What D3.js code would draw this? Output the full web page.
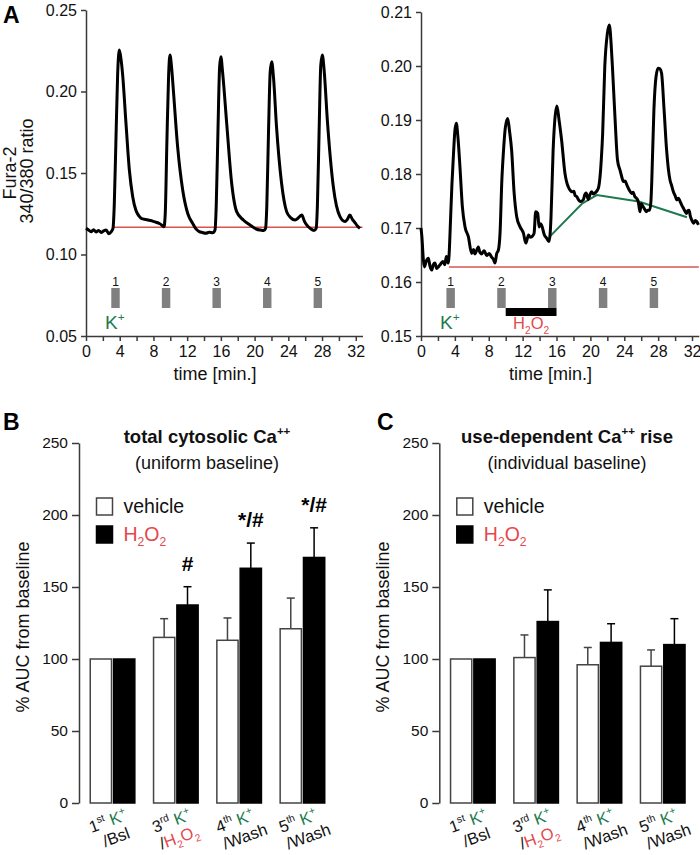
<!DOCTYPE html>
<html><head><meta charset="utf-8">
<script src="https://cdn.jsdelivr.net/npm/d3@7"></script>
<style>
body{margin:0;background:#fff;}
svg{font-family:Arial,"Liberation Sans",Helvetica,sans-serif;}
</style></head><body>
<svg id="chart" width="700" height="855"></svg>
<script>
// ---------------- DATA ----------------
const leftTime = [0,0.3,0.6,0.9,1.2,1.5,1.8,2.1,2.4,2.7,3.0,3.2,3.35,3.55,3.75,3.95,4.15,4.35,4.74,5.14,5.54,5.93,6.3,6.6,7.1,7.5,7.9,8.3,8.7,9.0,9.25,9.4,9.6,9.8,9.96,10.15,10.36,10.87,11.47,12.06,12.65,13.0,13.44,13.8,14.23,14.6,15.03,15.3,15.45,15.65,15.85,16.0,16.2,16.69,17.28,17.87,18.66,19.45,20.25,20.7,21.1,21.3,21.45,21.65,21.85,22.03,22.25,22.6,23.2,23.8,24.3,24.8,25.2,25.6,25.9,26.2,26.6,27.05,27.3,27.45,27.65,27.85,28.03,28.25,28.63,29.34,30.13,30.72,31.0,31.3,31.6,31.9,32.2,32.5];
const leftRatio = [0.1161,0.1150,0.1140,0.1152,0.1138,0.1148,0.1135,0.1145,0.1150,0.1128,0.1140,0.1160,0.1300,0.1700,0.2100,0.2255,0.2200,0.2100,0.1807,0.1520,0.1355,0.1270,0.1235,0.1220,0.1215,0.1210,0.1205,0.1198,0.1190,0.1180,0.1170,0.1250,0.1700,0.2100,0.2224,0.2150,0.2010,0.1660,0.1396,0.1253,0.1191,0.1160,0.1140,0.1135,0.1131,0.1136,0.1134,0.1150,0.1300,0.1750,0.2150,0.2213,0.2120,0.1805,0.1437,0.1263,0.1212,0.1181,0.1155,0.1150,0.1147,0.1160,0.1300,0.1750,0.2120,0.2183,0.2080,0.1784,0.1437,0.1263,0.1225,0.1212,0.1225,0.1242,0.1205,0.1180,0.1160,0.1147,0.1160,0.1300,0.1750,0.2160,0.2224,0.2130,0.1825,0.1416,0.1232,0.1202,0.1215,0.1242,0.1215,0.1196,0.1175,0.1160];

const rightTime = [0,0.1,0.28,0.4,0.65,0.87,1.05,1.26,1.45,1.65,1.85,2.05,2.3,2.6,2.8,3.0,3.2,3.35,3.45,3.65,3.82,4.0,4.17,4.35,4.6,4.88,5.2,5.59,5.98,6.2,6.37,6.77,6.95,7.16,7.45,7.75,8.05,8.34,8.55,8.74,8.93,9.15,9.33,9.55,9.72,9.95,10.23,10.45,10.7,11.0,11.3,11.7,12.1,12.37,12.7,12.9,13.1,13.35,13.54,13.78,13.94,14.1,14.25,14.57,14.84,15.1,15.25,15.35,15.6,15.8,16.05,16.3,16.6,17.0,17.2,17.4,17.6,17.8,18.05,18.2,18.4,18.6,18.85,19.15,19.35,19.5,19.75,19.95,20.15,20.35,20.55,20.93,21.1,21.3,21.45,21.7,22.0,22.24,22.45,22.6,22.9,23.2,23.5,23.7,23.9,24.1,24.3,24.6,24.87,25.05,25.25,25.45,25.65,25.85,26.0,26.2,26.4,26.6,26.8,27.0,27.15,27.24,27.5,27.75,28.0,28.2,28.4,28.7,29.0,29.2,29.4,29.6,29.8,30.0,30.2,30.4,30.6,30.8,30.97,31.2,31.35,31.5,31.65,31.8,31.96,32.2,32.4,32.55,32.75];
const rightRatio = [0.1700,0.1685,0.1641,0.1628,0.1640,0.1644,0.1630,0.1622,0.1632,0.1635,0.1625,0.1628,0.1633,0.1638,0.1632,0.1647,0.1635,0.1660,0.1700,0.1780,0.1832,0.1880,0.1894,0.1870,0.1813,0.1740,0.1702,0.1684,0.1653,0.1660,0.1652,0.1665,0.1655,0.1652,0.1658,0.1649,0.1653,0.1646,0.1642,0.1635,0.1652,0.1660,0.1690,0.1790,0.1838,0.1885,0.1903,0.1880,0.1844,0.1764,0.1721,0.1702,0.1690,0.1672,0.1687,0.1683,0.1684,0.1690,0.1730,0.1727,0.1702,0.1708,0.1705,0.1687,0.1681,0.1675,0.1690,0.1720,0.1844,0.1900,0.1926,0.1900,0.1863,0.1801,0.1785,0.1776,0.1770,0.1767,0.1768,0.1760,0.1758,0.1752,0.1749,0.1752,0.1762,0.1765,0.1753,0.1762,0.1767,0.1763,0.1765,0.1773,0.1789,0.1830,0.1876,0.1999,0.2060,0.2076,0.2040,0.1999,0.1906,0.1826,0.1807,0.1795,0.1786,0.1787,0.1780,0.1770,0.1764,0.1766,0.1758,0.1755,0.1749,0.1730,0.1745,0.1740,0.1735,0.1730,0.1733,0.1733,0.1750,0.1783,0.1919,0.1980,0.1996,0.1995,0.1987,0.1919,0.1844,0.1810,0.1789,0.1778,0.1767,0.1760,0.1752,0.1755,0.1749,0.1742,0.1737,0.1730,0.1727,0.1732,0.1733,0.1722,0.1715,0.1709,0.1714,0.1712,0.1706];

const baselineLeft = 0.1167;
const baselineRight = 0.1628;
const baselineStart = 3.3;
const stimOn  = [3, 9, 15, 21, 27];
const stimOff = [4, 10, 16, 22, 28];
const stimLabels = ["1","2","3","4","5"];
const h2o2Period = [10, 16];
const greenTime  = [15.2, 19.0, 20.75, 25.7, 31.4];
const greenRatio = [0.1684, 0.1745, 0.1761, 0.1749, 0.1720];
const leftYTicks  = [0.05, 0.10, 0.15, 0.20, 0.25];
const rightYTicks = [0.15, 0.16, 0.17, 0.18, 0.19, 0.20, 0.21];
const timeTicks = d3.range(0, 33, 2);

const groups = ["1st", "3rd", "4th", "5th"];
const groupSuffix = ["/Bsl", "/H2O2", "/Wash", "/Wash"];
const vehicleB = [100, 115, 113, 121];
const vehicleBErr = [0, 13, 15.5, 21.3];
const h2o2B = [100, 137.5, 163, 170.5];
const h2o2BErr = [0, 12.7, 17.5, 20.6];
const sigB = ["", "#", "*/#", "*/#"];
const vehicleC = [100, 101, 96, 95];
const vehicleCErr = [0, 15.7, 12, 11.3];
const h2o2C = [100, 126, 111.5, 110];
const h2o2CErr = [0, 22, 13, 18];
const sigC = ["", "", "", ""];
const barYTicks = [0, 50, 100, 150, 200, 250];

// ---------------- STYLE ----------------
const GREEN = "#1c7a4c", RED = "#e5484d", LINE_RED = "#d9534f", AX = "#3a3a3a";
const svg = d3.select("#chart");

function rich(sel, segs, fs) {
  let cur = 0;
  segs.forEach(s => {
    const target = s.sup ? -0.42 * fs : (s.sub ? 0.28 * fs : 0);
    const ts = sel.append("tspan").text(s.t).attr("dy", (target - cur).toFixed(2));
    if (s.sup || s.sub) ts.attr("font-size", (fs * 0.62).toFixed(1));
    if (s.fill) ts.attr("fill", s.fill);
    if (s.dx) ts.attr("dx", s.dx);
    cur = target;
  });
}
const h2o2Segs = (fill) => [{t:"H",fill},{t:"2",sub:true,fill},{t:"O",fill},{t:"2",sub:true,fill}];

// ---------------- PANEL A ----------------
function tracePanel(o) {
  const x = d3.scaleLinear().domain([0, 32.8]).range([o.x0, o.x1]);
  const y = d3.scaleLinear().domain(o.yDomain).range([336, o.yTop]);
  const g = svg.append("g");

  const yAx = g.append("g").attr("transform", `translate(${o.x0},0)`)
    .call(d3.axisLeft(y).tickValues(o.yTicks).tickFormat(d3.format(".2f")).tickSize(5).tickPadding(4).tickSizeOuter(0));
  const xAx = g.append("g").attr("transform", `translate(0,336)`)
    .call(d3.axisBottom(x).tickValues(timeTicks).tickFormat(d => d % 4 === 0 ? d : "").tickSize(5).tickPadding(5).tickSizeOuter(0));
  [yAx, xAx].forEach(a => {
    a.selectAll("path,line").attr("stroke", AX).attr("stroke-width", 1.5);
    a.selectAll("text").attr("font-size", 16).attr("fill", "#111");
  });

  g.append("line").attr("x1", x(baselineStart)).attr("x2", x(32.8))
    .attr("y1", y(o.baseline)).attr("y2", y(o.baseline))
    .attr("stroke", LINE_RED).attr("stroke-width", 1.5);

  if (o.green) {
    const gl = d3.line().x(d => x(d[0])).y(d => y(d[1]));
    g.append("path").datum(greenTime.map((t, i) => [t, greenRatio[i]]))
      .attr("d", gl).attr("fill", "none").attr("stroke", GREEN).attr("stroke-width", 2);
  }

  const line = d3.line().x(d => x(d[0])).y(d => y(d[1])).curve(d3.curveMonotoneX);
  g.append("path").datum(o.t.map((t, i) => [t, o.v[i]]))
    .attr("d", line).attr("fill", "none").attr("stroke", "#000")
    .attr("stroke-width", 3).attr("stroke-linejoin", "round");

  stimOn.forEach((s, i) => {
    g.append("rect").attr("x", x(s)).attr("width", x(stimOff[i]) - x(s))
      .attr("y", 288).attr("height", 20).attr("fill", "#808080");
    g.append("text").attr("x", x((s + stimOff[i]) / 2)).attr("y", 286)
      .attr("text-anchor", "middle").attr("font-size", 12).attr("fill", "#111").text(stimLabels[i]);
  });
  const kt = g.append("text").attr("x", x(2.25)).attr("y", 329).attr("font-size", 19).attr("fill", GREEN);
  rich(kt, [{t:"K"},{t:"+",sup:true}], 19);

  if (o.h2o2) {
    g.append("rect").attr("x", x(h2o2Period[0])).attr("width", x(h2o2Period[1]) - x(h2o2Period[0]))
      .attr("y", 308).attr("height", 8).attr("fill", "#000");
    const ht = g.append("text").attr("x", x((h2o2Period[0] + h2o2Period[1]) / 2)).attr("y", 329)
      .attr("text-anchor", "middle").attr("font-size", 16.5).attr("fill", RED);
    rich(ht, h2o2Segs(RED), 16.5);
  }
  g.append("text").attr("x", x(15.3)).attr("y", 380).attr("text-anchor", "middle")
    .attr("font-size", 18).attr("fill", "#111").text("time [min.]");
}

tracePanel({x0: 86, x1: 362.5, yDomain: [0.05, 0.25], yTop: 10, yTicks: leftYTicks,
  t: leftTime, v: leftRatio, baseline: baselineLeft, green: false, h2o2: false});
tracePanel({x0: 421, x1: 698.8, yDomain: [0.15, 0.21], yTop: 12, yTicks: rightYTicks,
  t: rightTime, v: rightRatio, baseline: baselineRight, green: true, h2o2: true});

svg.append("text").attr("x", 3).attr("y", 23).attr("font-size", 23).attr("font-weight", "bold").text("A");
svg.append("text").attr("transform", "translate(16,173) rotate(-90)").attr("text-anchor", "middle")
  .attr("font-size", 18).attr("fill", "#111").text("Fura-2");
svg.append("text").attr("transform", "translate(33,171) rotate(-90)").attr("text-anchor", "middle")
  .attr("font-size", 18).attr("fill", "#111").text("340/380 ratio");

// ---------------- PANELS B & C ----------------
function barPanel(o) {
  const g = svg.append("g");
  const y = d3.scaleLinear().domain([0, 250]).range([803, 443]);
  const step = 63.3, pi = 0.272, po = 10.5 / 63.3;
  const x = d3.scaleBand().domain(groups)
    .range([o.ax, o.ax + step * (groups.length - pi + 2 * po)]).paddingInner(pi).paddingOuter(po);
  const xs = d3.scaleBand().domain(["vehicle", "h2o2"]).range([0, x.bandwidth()]).paddingInner(0.025);

  const yAx = g.append("g").attr("transform", `translate(${o.ax},0)`)
    .call(d3.axisLeft(y).tickValues(barYTicks).tickSize(7).tickPadding(4).tickSizeOuter(0));
  yAx.selectAll("path,line").attr("stroke", AX).attr("stroke-width", 1.5);
  yAx.selectAll("text").attr("font-size", 15.5).attr("fill", "#111");

  const series = [
    {key: "vehicle", vals: o.veh, err: o.vehErr, fill: "#fff", stroke: "#444"},
    {key: "h2o2", vals: o.h2o2, err: o.h2o2Err, fill: "#000", stroke: "#000"}
  ];
  series.forEach(s => {
    groups.forEach((gname, i) => {
      const bx = x(gname) + xs(s.key), bw = xs.bandwidth(), cx = bx + bw / 2;
      if (s.err[i] > 0) {
        const top = y(s.vals[i] + s.err[i]);
        g.append("line").attr("x1", cx).attr("x2", cx).attr("y1", y(s.vals[i])).attr("y2", top)
          .attr("stroke", s.stroke).attr("stroke-width", 1.5);
        g.append("line").attr("x1", cx - 4).attr("x2", cx + 4).attr("y1", top).attr("y2", top)
          .attr("stroke", s.stroke).attr("stroke-width", 1.5);
      }
      g.append("rect").attr("x", bx + 0.75).attr("width", bw - 1.5)
        .attr("y", y(s.vals[i])).attr("height", y(0) - y(s.vals[i]))
        .attr("fill", s.fill).attr("stroke", s.stroke).attr("stroke-width", 1.5);
      if (s.key === "h2o2" && o.sig[i]) {
        g.append("text").attr("x", cx).attr("y", y(s.vals[i] + s.err[i]) - 16)
          .attr("text-anchor", "middle").attr("font-size", 21).attr("font-weight", "bold").text(o.sig[i]);
      }
    });
  });

  groups.forEach((gname, i) => {
    const cx = x(gname) + x.bandwidth() / 2;
    const lg = g.append("g").attr("transform", `translate(${cx - 21},833) rotate(-20)`);
    const t1 = lg.append("text").attr("font-size", 16.5).attr("fill", "#111");
    rich(t1, [{t: gname[0]}, {t: gname.slice(1), sup: true}, {t: " K", fill: GREEN}, {t: "+", sup: true, fill: GREEN}], 16.5);
    const t2 = lg.append("text").attr("x", i === 0 ? 8 : 1).attr("y", 18).attr("font-size", 16.5).attr("fill", "#111");
    if (groupSuffix[i] === "/H2O2") rich(t2, [{t: "/"}].concat(h2o2Segs(RED)), 16.5);
    else t2.text(groupSuffix[i]);
  });

  const tcx = o.titleX;
  const tt = g.append("text").attr("x", tcx).attr("y", 443).attr("text-anchor", "middle")
    .attr("font-size", 18.5).attr("font-weight", "bold").attr("fill", "#111");
  rich(tt, [{t: o.title1}, {t: "++", sup: true}].concat(o.title1b ? [{t: o.title1b}] : []), 18.5);
  g.append("text").attr("x", tcx).attr("y", 469).attr("text-anchor", "middle")
    .attr("font-size", 18).attr("fill", "#111").text(o.title2);

  const lx = o.ax + 17.5;
  g.append("rect").attr("x", lx).attr("y", 498).attr("width", 16).attr("height", 17)
    .attr("fill", "#fff").attr("stroke", "#444").attr("stroke-width", 1.5);
  g.append("rect").attr("x", lx).attr("y", 526).attr("width", 16).attr("height", 17)
    .attr("fill", "#000").attr("stroke", "#000").attr("stroke-width", 1.5);
  g.append("text").attr("x", lx + 27).attr("y", 513).attr("font-size", 19.5).attr("fill", "#111").text("vehicle");
  const lt = g.append("text").attr("x", lx + 27).attr("y", 541).attr("font-size", 19.5).attr("fill", RED);
  rich(lt, h2o2Segs(RED), 19.5);

  g.append("text").attr("transform", `translate(${o.ax - 50},627) rotate(-90)`).attr("text-anchor", "middle")
    .attr("font-size", 18).attr("fill", "#111").text("% AUC from baseline");

  svg.append("text").attr("x", o.letterX).attr("y", 430).attr("font-size", 23)
    .attr("font-weight", "bold").text(o.letter);
}

barPanel({ax: 79, veh: vehicleB, vehErr: vehicleBErr, h2o2: h2o2B, h2o2Err: h2o2BErr, sig: sigB,
  title1: "total cytosolic Ca", title1b: "", title2: "(uniform baseline)", titleX: 207, letter: "B", letterX: 3});
barPanel({ax: 439.3, veh: vehicleC, vehErr: vehicleCErr, h2o2: h2o2C, h2o2Err: h2o2CErr, sig: sigC,
  title1: "use-dependent Ca", title1b: " rise", title2: "(individual baseline)", titleX: 567, letter: "C", letterX: 377});
</script>
</body></html>
